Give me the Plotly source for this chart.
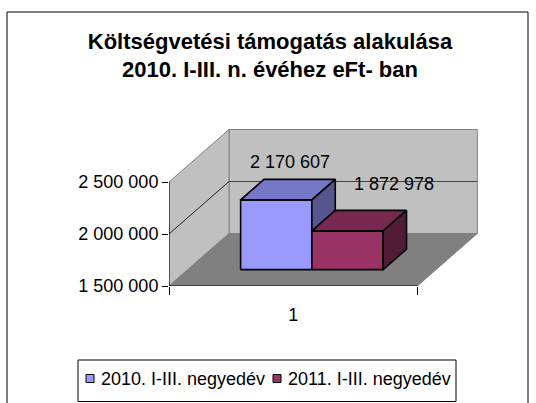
import plotly.graph_objects as go

# ---------------- data ----------------
categories = ["1"]
series_names = ["2010. I-III. negyedév", "2011. I-III. negyedév"]
series_values = [2170607, 1872978]
y_tick_values = [1500000, 2000000, 2500000]

# ---------------- styles ----------------
front_colors = ["#9999FF", "#993366"]
top_colors = ["#7777C7", "#77284F"]
side_colors = ["#555590", "#521C37"]
label_shifts = [(-10, 17), (23, 26)]  # (xshift, yshift) of value labels in px
legend_item_x = [86, 273]             # left px of each legend swatch
FONT = "Liberation Sans, Arial, sans-serif"

W, H = 536, 403
M_L, M_R, M_T, M_B = 169, 58, 128, 117
PLOT_W = W - M_L - M_R
PLOT_H = H - M_T - M_B
PX_PER_CAT = 248.3          # px per category unit along the front edge
PX_PER_VAL = 104 / 1e6      # px per value unit
Y_MIN, Y_WALL_TOP = 1500000, 2500000
DEPTH_PX = (60, -52.5)      # oblique depth vector in px (front -> back)
DX = DEPTH_PX[0] / PX_PER_CAT
DY = -DEPTH_PX[1] / PX_PER_VAL
BAR_W = 0.287
BAR_D0, BAR_D1 = 0.312, 0.702


def proj(x, y, d):
    return x + d * DX, y + d * DY


def poly(points, fill, line_color, line_width=1.0, name=None):
    xs = [p[0] for p in points] + [points[0][0]]
    ys = [p[1] for p in points] + [points[0][1]]
    return go.Scatter(x=xs, y=ys, mode="lines", fill="toself", fillcolor=fill,
                      line=dict(color=line_color, width=line_width), name=name,
                      hoverinfo="skip", showlegend=False)


def segment(p, q, color, width=1.0):
    return go.Scatter(x=[p[0], q[0]], y=[p[1], q[1]], mode="lines",
                      line=dict(color=color, width=width),
                      hoverinfo="skip", showlegend=False)


def px_x(px):
    return (px - M_L) / PLOT_W


def px_y(py):
    return (H - M_B - py) / PLOT_H


fig = go.Figure()
n_cat = len(categories)

# walls and floor
fig.add_trace(poly([proj(0, Y_MIN, 1), proj(n_cat, Y_MIN, 1),
                    proj(n_cat, Y_WALL_TOP, 1), proj(0, Y_WALL_TOP, 1)],
                   "#C0C0C0", "#808080"))
fig.add_trace(poly([proj(0, Y_MIN, 0), proj(0, Y_MIN, 1),
                    proj(0, Y_WALL_TOP, 1), proj(0, Y_WALL_TOP, 0)],
                   "#C0C0C0", "#808080"))
fig.add_trace(poly([proj(0, Y_MIN, 0), proj(n_cat, Y_MIN, 0),
                    proj(n_cat, Y_MIN, 1), proj(0, Y_MIN, 1)],
                   "#808080", "#808080"))

# gridlines (inner ticks only; the outer ones are wall edges)
for v in y_tick_values[1:-1]:
    fig.add_trace(segment(proj(0, v, 0), proj(0, v, 1), "#222222"))
    fig.add_trace(segment(proj(0, v, 1), proj(n_cat, v, 1), "#444444"))

# axis lines
fig.add_trace(segment(proj(0, Y_MIN, 0), proj(0, Y_WALL_TOP, 0), "#000000"))
fig.add_trace(segment(proj(0, Y_MIN, 0), proj(n_cat, Y_MIN, 0), "#000000"))

# 3D bars
n_ser = len(series_values)
annotations = []
shapes = []
for i, v in enumerate(series_values):
    x0 = 0.5 - n_ser * BAR_W / 2 + i * BAR_W
    x1 = x0 + BAR_W
    fig.add_trace(poly([proj(x0, Y_MIN, BAR_D0), proj(x1, Y_MIN, BAR_D0),
                        proj(x1, v, BAR_D0), proj(x0, v, BAR_D0)],
                       front_colors[i], "#000000", 1.6, series_names[i]))
    fig.add_trace(poly([proj(x0, v, BAR_D0), proj(x1, v, BAR_D0),
                        proj(x1, v, BAR_D1), proj(x0, v, BAR_D1)],
                       top_colors[i], "#000000", 1.6, series_names[i]))
    fig.add_trace(poly([proj(x1, Y_MIN, BAR_D0), proj(x1, Y_MIN, BAR_D1),
                        proj(x1, v, BAR_D1), proj(x1, v, BAR_D0)],
                       side_colors[i], "#000000", 1.6, series_names[i]))
    lx, ly = proj((x0 + x1) / 2, v, BAR_D1)
    annotations.append(dict(x=lx, y=ly, xref="x", yref="y",
                            text=f"{v:,}".replace(",", " "), showarrow=False,
                            xshift=label_shifts[i][0], yshift=label_shifts[i][1],
                            font=dict(family=FONT, size=18, color="#000000")))

# legend (box, swatches, texts)
LEG_Y = 378.5
shapes.append(dict(type="rect", xref="paper", yref="paper",
                   x0=px_x(78), x1=px_x(456), y0=px_y(401.5), y1=px_y(360),
                   line=dict(color="#000000", width=1), fillcolor="white"))
for i, name in enumerate(series_names):
    sx = legend_item_x[i]
    shapes.append(dict(type="rect", xref="paper", yref="paper",
                       x0=px_x(sx), x1=px_x(sx + 8), y0=px_y(LEG_Y + 4), y1=px_y(LEG_Y - 4),
                       line=dict(color="#000000", width=1), fillcolor=front_colors[i]))
    annotations.append(dict(x=px_x(sx + 13), y=px_y(LEG_Y), xref="paper", yref="paper",
                            xanchor="left", yanchor="middle", text=name, showarrow=False,
                            font=dict(family=FONT, size=18, color="#000000")))

# outer chart frame
shapes.append(dict(type="rect", xref="paper", yref="paper",
                   x0=px_x(7), x1=px_x(528), y0=px_y(412), y1=px_y(12),
                   line=dict(color="#000000", width=1), fillcolor="rgba(0,0,0,0)",
                   layer="below"))

fig.update_layout(
    width=W, height=H,
    margin=dict(l=M_L, r=M_R, t=M_T, b=M_B, autoexpand=False),
    paper_bgcolor="white", plot_bgcolor="white",
    separators=". ",
    font=dict(family=FONT, size=18, color="#000000"),
    title=dict(text="<b>Költségvetési támogatás alakulása<br>2010. I-III. n. évéhez eFt- ban</b>",
               x=270 / W, xref="container", xanchor="center",
               y=1 - 48.5 / H, yref="container", yanchor="middle",
               font=dict(family=FONT, size=22, color="#000000")),
    xaxis=dict(range=[0, PLOT_W / PX_PER_CAT], showgrid=False, zeroline=False,
               showline=False, tickmode="array", tickvals=[k + 0.5 for k in range(n_cat)],
               ticktext=categories, ticks="", ticklabelstandoff=16,
               minor=dict(tickmode="array", tickvals=list(range(n_cat + 1)),
                          ticks="outside", ticklen=8, tickcolor="#000000", tickwidth=1),
               fixedrange=True),
    yaxis=dict(range=[Y_MIN, Y_MIN + PLOT_H / PX_PER_VAL], showgrid=False, zeroline=False,
               showline=False, tickmode="array", tickvals=y_tick_values, tickformat=",d",
               ticks="outside", ticklen=6, tickcolor="#000000", tickwidth=1,
               fixedrange=True),
    annotations=annotations,
    shapes=shapes,
    showlegend=False,
)

fig.write_html("out.html", config={"displayModeBar": False},
               post_script="document.body.style.margin='0';document.body.style.overflow='hidden';")
